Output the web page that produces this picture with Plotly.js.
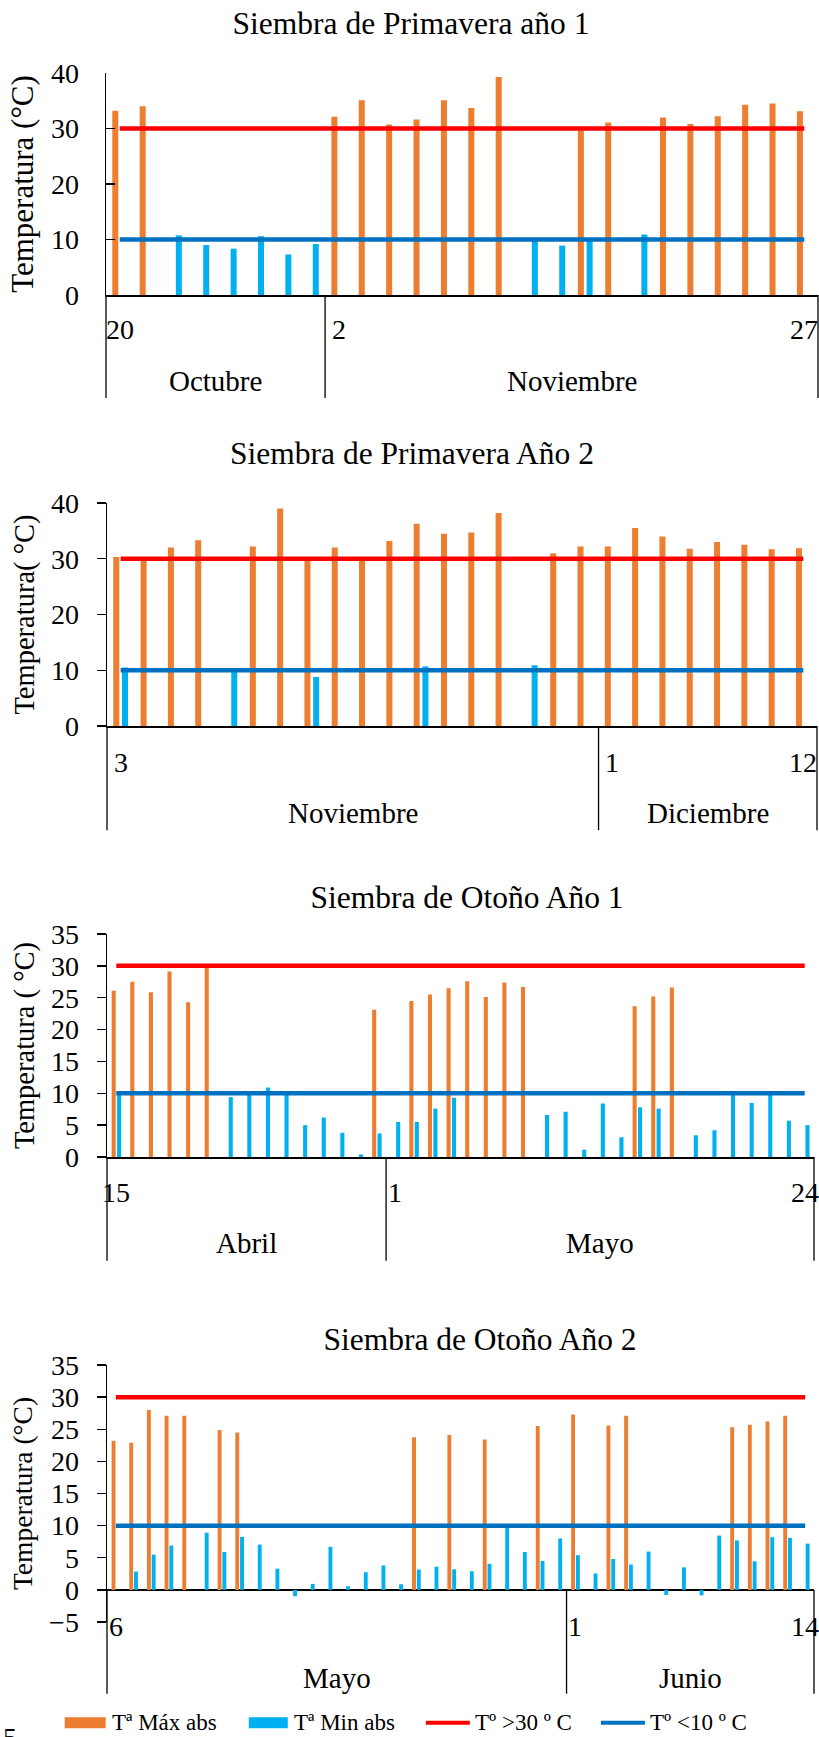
<!DOCTYPE html>
<html>
<head>
<meta charset="utf-8">
<script src="https://cdn.plot.ly/plotly-3.0.1.min.js"></script>
<style>
html, body { margin:0; padding:0; background:#fff; width:819px; height:1737px; overflow:hidden; }
.chart { position:absolute; left:0; width:819px; }
</style>
</head>
<body>
<div id="c1" class="chart" style="top:0px;height:420px"></div>
<div id="c2" class="chart" style="top:420px;height:430px"></div>
<div id="c3" class="chart" style="top:850px;height:440px"></div>
<div id="c4" class="chart" style="top:1290px;height:447px"></div>
<script>
// ---------------- DATA ----------------
const highLimit = 30;   // Tº >30 º C
const lowLimit = 10;    // Tº <10 º C

// Chart 1
const title1 = 'Siembra de Primavera año 1';
const yTitle1 = 'Temperatura (°C)';
const months1 = ['Octubre', 'Noviembre'];
const monthCounts1 = [8, 18];
const dayIdx1 = [0, 8, 25];
const dayText1 = ['20', '2', '27'];
const max1 = [33.2, 34.0, null, null, null, null, null, null, 32.1, 35.1, 30.7, 31.6, 35.1, 33.7, 39.3, null, null, 29.7, 31.1, null, 32.0, 30.8, 32.2, 34.3, 34.5, 33.1];
const min1 = [null, null, 10.75, 9.0, 8.35, 10.6, 7.3, 9.2, null, null, null, null, null, null, null, 9.8, 8.9, 10.1, null, 10.9, null, null, null, null, null, null];

// Chart 2
const title2 = 'Siembra de Primavera Año 2';
const yTitle2 = 'Temperatura( °C)';
const months2 = ['Noviembre', 'Diciembre'];
const monthCounts2 = [18, 8];
const dayIdx2 = [0, 18, 25];
const dayText2 = ['3', '1', '12'];
const max2 = [30.3, 29.8, 32.0, 33.3, null, 32.2, 39.0, 29.8, 32.0, 29.8, 33.2, 36.3, 34.5, 34.7, 38.2, null, 31.0, 32.2, 32.2, 35.5, 34.0, 31.8, 33.0, 32.5, 31.7, 31.9];
const min2 = [10.5, null, null, null, 9.8, null, null, 8.8, null, null, null, 10.7, null, null, null, 10.9, null, null, null, null, null, null, null, null, null, null];

// Chart 3
const title3 = 'Siembra de Otoño Año 1';
const yTitle3 = 'Temperatura ( °C)';
const months3 = ['Abril', 'Mayo'];
const monthCounts3 = [15, 23];
const dayIdx3 = [0, 15, 37];
const dayText3 = ['15', '1', '24'];
const max3 = [26.1, 27.5, 25.85, 29.1, 24.3, 29.8, null, null, null, null, null, null, null, null, 23.1, null, 24.5, 25.5, 26.5, 27.6, 25.1, 27.4, 26.7, null, null, null, null, null, 23.65, 25.2, 26.6, null, null, null, null, null, null, null];
const min3 = [9.9, null, null, null, null, null, 9.4, 9.8, 10.9, 9.8, 5.0, 6.2, 3.8, 0.4, 3.7, 5.5, 5.5, 7.6, 9.3, null, null, null, null, 6.6, 7.1, 1.15, 8.4, 3.1, 7.8, 7.6, null, 3.4, 4.2, 9.8, 8.5, 9.8, 5.7, 5.0];

// Chart 4
const title4 = 'Siembra de Otoño Año 2';
const yTitle4 = 'Temperatura (°C)';
const months4 = ['Mayo', 'Junio'];
const monthCounts4 = [26, 14];
const dayIdx4 = [0, 26, 39];
const dayText4 = ['6', '1', '14'];
const max4 = [23.2, 22.9, 28.0, 27.1, 27.1, null, 24.9, 24.5, null, null, null, null, null, null, null, null, null, 23.75, null, 24.1, null, 23.4, null, null, 25.5, null, 27.3, null, 25.6, 27.1, null, null, null, null, null, 25.3, 25.7, 26.2, 27.1, null];
const min4 = [null, 2.85, 5.5, 6.9, null, 8.9, 5.9, 8.25, 7.05, 3.3, -1.0, 0.93, 6.7, 0.57, 2.75, 3.8, 0.88, 3.16, 3.6, 3.2, 2.9, 4.05, 9.8, 5.9, 4.5, 8.0, 5.4, 2.55, 4.8, 3.95, 5.96, -0.8, 3.5, -0.85, 8.45, 7.7, 4.45, 8.2, 8.1, 7.2];

const legendNames = ['Tª Máx abs', 'Tª Min abs', 'Tº >30 º C', 'Tº <10 º C'];

// ---------------- STYLE ----------------
const FONT = '"Liberation Serif", "Times New Roman", Times, serif';
const ORANGE = '#ED7D31', LIGHTBLUE = '#00B0F0', RED = '#FF0000', BLUE = '#0070C0';

function build(id, c) {
  const N = c.max.length;
  const idx = c.max.map((_, i) => i);
  const W = 819, H = c.H, m = c.margin;
  const plotW = W - m.l - m.r, plotH = H - m.t - m.b;
  const ymin = c.range[0], ymax = c.range[1];
  const yZero = (0 - ymin) / (ymax - ymin);
  const below = px => -px / plotH;
  const px2x = px => (px - m.l) / plotW;
  const py2y = py => (H - m.b - py) / plotH;

  const traces = [
    {type: 'bar', x: idx, y: c.max, name: legendNames[0], marker: {color: ORANGE}, width: c.barW, offset: c.offMax, showlegend: false},
    {type: 'bar', x: idx, y: c.min, name: legendNames[1], marker: {color: LIGHTBLUE}, width: c.barW, offset: c.offMin, showlegend: false},
    {type: 'scatter', mode: 'lines', x: idx, y: idx.map(() => highLimit), name: legendNames[2], line: {color: RED, width: 4.5}, showlegend: false},
    {type: 'scatter', mode: 'lines', x: idx, y: idx.map(() => lowLimit), name: legendNames[3], line: {color: BLUE, width: 4.5}, showlegend: false}
  ];

  const shapes = [];
  const annotations = [];
  let start = 0;
  const bounds = [0];
  c.months.forEach((mn, j) => {
    const cnt = c.monthCounts[j];
    annotations.push({xref: 'paper', yref: 'paper', x: (start + cnt / 2) / N, y: below(c.monthY),
      text: mn, showarrow: false, xanchor: 'center', yanchor: 'middle',
      font: {family: FONT, size: 29, color: '#000'}});
    start += cnt;
    bounds.push(start);
  });
  bounds.forEach(b => shapes.push({type: 'line', xref: 'paper', yref: 'paper',
    x0: b / N, x1: b / N, y0: yZero, y1: below(c.divY), line: {color: '#000', width: 1.3}}));
  c.dayIdx.forEach((k, j) => annotations.push({xref: 'x', yref: 'paper', x: k, y: below(c.dayY),
    text: c.dayText[j], showarrow: false, xanchor: 'center', yanchor: 'middle',
    font: {family: FONT, size: 28, color: '#000'}}));

  if (c.legend) {
    const ly = 433;
    const items = [
      {kind: 'rect', color: ORANGE, x0: 65, x1: 106, tx: 110},
      {kind: 'rect', color: LIGHTBLUE, x0: 249, x1: 288, tx: 292},
      {kind: 'line', color: RED, x0: 426, x1: 470, tx: 473},
      {kind: 'line', color: BLUE, x0: 601, x1: 645, tx: 648}
    ];
    items.forEach((it, j) => {
      if (it.kind === 'rect') {
        shapes.push({type: 'rect', xref: 'paper', yref: 'paper', x0: px2x(it.x0), x1: px2x(it.x1),
          y0: py2y(ly - 5.5), y1: py2y(ly + 5.5), fillcolor: it.color, line: {width: 0}});
      } else {
        shapes.push({type: 'line', xref: 'paper', yref: 'paper', x0: px2x(it.x0), x1: px2x(it.x1),
          y0: py2y(ly), y1: py2y(ly), line: {color: it.color, width: 4}});
      }
      annotations.push({xref: 'paper', yref: 'paper', x: px2x(it.tx), y: py2y(ly), text: legendNames[j],
        showarrow: false, xanchor: 'left', yanchor: 'middle', font: {family: FONT, size: 23, color: '#000'}});
    });
    annotations.push({xref: 'paper', yref: 'paper', x: px2x(10), y: py2y(430), text: '5',
      showarrow: false, xanchor: 'center', yanchor: 'top', font: {family: FONT, size: 28, color: '#000'}});
  }

  const layout = {
    width: W, height: H,
    margin: m,
    paper_bgcolor: '#fff', plot_bgcolor: 'rgba(0,0,0,0)',
    font: {family: FONT, color: '#000'},
    showlegend: false,
    barmode: 'overlay',
    title: {text: c.title, font: {family: FONT, size: 31.5, color: '#000'},
      x: c.titleX / W, xref: 'container', xanchor: 'center',
      y: 1 - c.titleY / H, yref: 'container', yanchor: 'middle'},
    xaxis: {range: [-0.5, N - 0.5], showgrid: false, zeroline: false, showticklabels: false, ticks: '',
      showline: c.xLine, linecolor: '#000', linewidth: 1.5, fixedrange: true},
    yaxis: {range: c.range, dtick: c.dtick, tick0: 0, showgrid: false,
      zeroline: !c.xLine, zerolinecolor: '#000', zerolinewidth: 1.5,
      showline: true, linecolor: '#000', linewidth: 1.5,
      ticks: c.ticks, ticklen: 9, tickwidth: 1.3, tickcolor: '#000',
      ticklabelstandoff: c.ticks === 'inside' ? 20 : 12,
      tickfont: {family: FONT, size: 28, color: '#000'},
      title: {text: c.yTitle, font: {family: FONT, size: c.yTitleSize, color: '#000'}, standoff: 8},
      automargin: false, fixedrange: true},
    shapes: shapes,
    annotations: annotations
  };
  Plotly.newPlot(id, traces, layout, {displayModeBar: false, staticPlot: true});
}

build('c1', {H: 420, margin: {l: 106, r: 1, t: 73.3, b: 124.7}, range: [0, 40], dtick: 10, ticks: 'inside',
  title: title1, titleX: 411, titleY: 23, yTitle: yTitle1, yTitleSize: 31,
  max: max1, min: min1, months: months1, monthCounts: monthCounts1, dayIdx: dayIdx1, dayText: dayText1,
  barW: 0.22, offMax: -0.27, offMin: 0.05, dayY: 34, monthY: 86.4, divY: 103, xLine: true});

build('c2', {H: 430, margin: {l: 107, r: 1.5, t: 83.3, b: 124}, range: [0, 40], dtick: 10, ticks: 'outside',
  title: title2, titleX: 412, titleY: 33, yTitle: yTitle2, yTitleSize: 28.5,
  max: max2, min: min2, months: months2, monthCounts: monthCounts2, dayIdx: dayIdx2, dayText: dayText2,
  barW: 0.22, offMax: -0.27, offMin: 0.05, dayY: 36, monthY: 87, divY: 104, xLine: true});

build('c3', {H: 440, margin: {l: 107.3, r: 5.3, t: 84.3, b: 132.7}, range: [0, 35], dtick: 5, ticks: 'outside',
  title: title3, titleX: 467, titleY: 47, yTitle: yTitle3, yTitleSize: 28.5,
  max: max3, min: min3, months: months3, monthCounts: monthCounts3, dayIdx: dayIdx3, dayText: dayText3,
  barW: 0.22, offMax: -0.25, offMin: 0.04, dayY: 35.7, monthY: 85.7, divY: 103.7, xLine: true});

build('c4', {H: 447, margin: {l: 107.3, r: 5, t: 75.3, b: 114.7}, range: [-5, 35], dtick: 5, ticks: 'outside',
  title: title4, titleX: 480, titleY: 49, yTitle: yTitle4, yTitleSize: 27.5,
  max: max4, min: min4, months: months4, monthCounts: monthCounts4, dayIdx: dayIdx4, dayText: dayText4,
  barW: 0.22, offMax: -0.24, offMin: 0.03, dayY: 4.7, monthY: 55.7, divY: 71.7, xLine: false, legend: true});
</script>
</body>
</html>
